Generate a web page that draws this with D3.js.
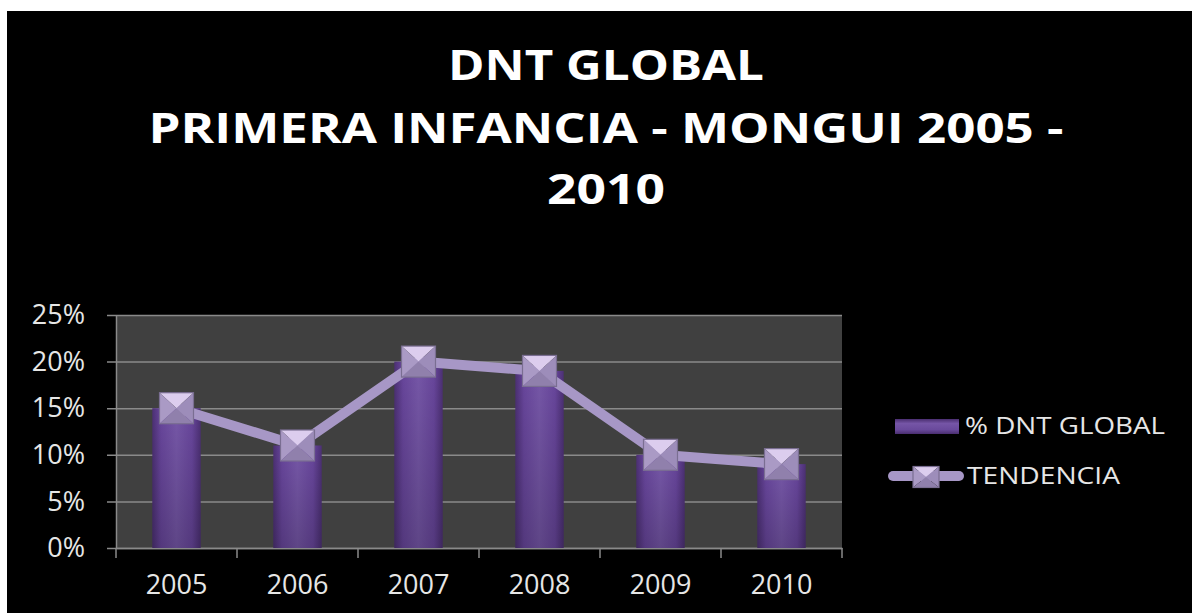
<!DOCTYPE html>
<html>
<head>
<meta charset="utf-8">
<script src="https://cdn.jsdelivr.net/npm/d3@7"></script>
<style>
  html, body { margin: 0; padding: 0; background: #fff; }
  svg { display: block; }
</style>
</head>
<body>
<svg id="chart" width="1192" height="613"></svg>
<script>
// data
const years = ["2005", "2006", "2007", "2008", "2009", "2010"];
const dntGlobal = [0.15, 0.11, 0.20, 0.19, 0.10, 0.09];
const tendencia = [0.15, 0.11, 0.20, 0.19, 0.10, 0.09];
const yTicks = [0, 0.05, 0.10, 0.15, 0.20, 0.25];
const titleLines = ["DNT GLOBAL", "PRIMERA INFANCIA - MONGUI 2005 -", "2010"];
const legendLabels = ["% DNT GLOBAL", "TENDENCIA"];

const svg = d3.select("#chart");
const font = "'Open Sans', 'DejaVu Sans', sans-serif";

// black slide background (white strip top/left like the capture)
svg.append("rect").attr("x", 7).attr("y", 11).attr("width", 1185).attr("height", 602).attr("fill", "#000");

const defs = svg.append("defs");

// bar gradient: dark edges, lighter middle
let barGrad = defs.append("linearGradient").attr("id", "barGrad").attr("x1", 0).attr("x2", 1).attr("y1", 0).attr("y2", 0);
[["0%", "#4c3074"], ["18%", "#68469c"], ["50%", "#7657a8"], ["82%", "#68469c"], ["100%", "#4c3074"]]
    .forEach(s => barGrad.append("stop").attr("offset", s[0]).attr("stop-color", s[1]));

let shade = defs.append("linearGradient").attr("id", "barShade").attr("x1", 0).attr("x2", 0).attr("y1", 0).attr("y2", 1);
shade.append("stop").attr("offset", "0%").attr("stop-color", "#000").attr("stop-opacity", 0);
shade.append("stop").attr("offset", "100%").attr("stop-color", "#000").attr("stop-opacity", 0.2);

let legGrad = defs.append("linearGradient").attr("id", "legGrad").attr("x1", 0).attr("x2", 0).attr("y1", 0).attr("y2", 1);
[["0%", "#4a2e70"], ["30%", "#7555a6"], ["70%", "#6a4a9c"], ["100%", "#4a2e70"]]
    .forEach(s => legGrad.append("stop").attr("offset", s[0]).attr("stop-color", s[1]));

// title
const title = svg.append("g").attr("font-family", font).attr("font-weight", "bold")
    .attr("font-size", 42).attr("fill", "#fff").attr("text-anchor", "middle");
const titleBase = [80, 143, 204];
const titleWidth = [316, 915, 118];
titleLines.forEach((t, i) => {
    title.append("text")
        .attr("x", 606).attr("y", titleBase[i])
        .attr("textLength", titleWidth[i]).attr("lengthAdjust", "spacingAndGlyphs")
        .text(t);
});

// scales
const x = d3.scaleBand().domain(years).range([116, 842]).padding(0);
const y = d3.scaleLinear().domain([0, 0.25]).range([548, 315]);
const barW = x.bandwidth() * 0.4;

// plot area
svg.append("rect")
    .attr("x", x.range()[0]).attr("y", y(0.25))
    .attr("width", x.range()[1] - x.range()[0]).attr("height", y(0) - y(0.25))
    .attr("fill", "#404040");

// gridlines + y labels
const yAxis = svg.append("g")
    .attr("transform", `translate(${x.range()[0]},0)`)
    .call(d3.axisLeft(y).tickValues(yTicks).tickFormat(d3.format(".0%")).tickSizeInner(9).tickSizeOuter(0).tickPadding(22));
yAxis.select(".domain").attr("stroke", "#8a8a8a").attr("stroke-width", 1.5);
yAxis.selectAll(".tick line").attr("stroke", "#8a8a8a").attr("stroke-width", 1.5)
    .attr("x2", x.range()[1] - x.range()[0]).attr("x1", -9);
yAxis.selectAll(".tick text").attr("fill", "#e6e6e6").attr("font-size", 27).attr("font-family", font);

// x axis: labels at centers, ticks at category boundaries
const xAxis = svg.append("g")
    .attr("transform", `translate(0,${y(0)})`)
    .call(d3.axisBottom(x).tickSize(0).tickPadding(27));
xAxis.select(".domain").attr("stroke", "#8a8a8a").attr("stroke-width", 1.5);
xAxis.selectAll(".tick text").attr("fill", "#e6e6e6").attr("font-size", 27).attr("font-family", font);
const bounds = years.map(d => x(d)).concat([x.range()[1]]);
xAxis.selectAll(".bound").data(bounds).enter().append("line")
    .attr("class", "bound")
    .attr("x1", d => d).attr("x2", d => d).attr("y1", 0).attr("y2", 10)
    .attr("stroke", "#8a8a8a").attr("stroke-width", 1.5);

// bars
const bars = svg.append("g");
bars.selectAll("rect.bar").data(dntGlobal).enter().append("rect")
    .attr("class", "bar")
    .attr("x", (d, i) => x(years[i]) + (x.bandwidth() - barW) / 2)
    .attr("y", d => y(d))
    .attr("width", barW)
    .attr("height", d => y(0) - y(d))
    .attr("fill", "url(#barGrad)");
bars.selectAll("rect.shade").data(dntGlobal).enter().append("rect")
    .attr("class", "shade")
    .attr("x", (d, i) => x(years[i]) + (x.bandwidth() - barW) / 2)
    .attr("y", d => y(d))
    .attr("width", barW)
    .attr("height", d => y(0) - y(d))
    .attr("fill", "url(#barShade)");

// pyramid style square marker
function drawMarker(g, cx, cy, w, h) {
    let l = cx - w / 2, r = cx + w / 2, t = cy - h / 2, b = cy + h / 2;
    let m = g.append("g");
    m.append("path").attr("d", `M${l},${t}L${r},${t}L${cx},${cy}Z`).attr("fill", "#dccdee");
    m.append("path").attr("d", `M${l},${t}L${cx},${cy}L${l},${b}Z`).attr("fill", "#aa9ac5");
    m.append("path").attr("d", `M${r},${t}L${cx},${cy}L${r},${b}Z`).attr("fill", "#9d8dba");
    m.append("path").attr("d", `M${l},${b}L${cx},${cy}L${r},${b}Z`).attr("fill", "#9080ac");
    m.append("rect").attr("x", l).attr("y", t).attr("width", w).attr("height", h)
        .attr("fill", "none").attr("stroke", "#7a6e92").attr("stroke-width", 1.2);
}

// trend line
const line = d3.line()
    .x((d, i) => x(years[i]) + x.bandwidth() / 2)
    .y(d => y(d));
svg.append("path").datum(tendencia)
    .attr("d", line)
    .attr("fill", "none").attr("stroke", "#a797c6").attr("stroke-width", 10)
    .attr("stroke-linejoin", "round");
const markers = svg.append("g");
tendencia.forEach((d, i) => drawMarker(markers, x(years[i]) + x.bandwidth() / 2, y(d), 34, 31));

// legend
const legend = svg.append("g").attr("font-family", font).attr("font-size", 23).attr("fill", "#e6e6e6");
legend.append("rect").attr("x", 895).attr("y", 419).attr("width", 64).attr("height", 15).attr("fill", "url(#legGrad)");
legend.append("text").attr("x", 965).attr("y", 434)
    .attr("textLength", 200).attr("lengthAdjust", "spacingAndGlyphs").text(legendLabels[0]);
legend.append("line").attr("x1", 893).attr("x2", 959).attr("y1", 476).attr("y2", 476)
    .attr("stroke", "#a797c6").attr("stroke-width", 10).attr("stroke-linecap", "round");
drawMarker(legend, 926, 477, 26, 21);
legend.append("text").attr("x", 967).attr("y", 484)
    .attr("textLength", 153).attr("lengthAdjust", "spacingAndGlyphs").text(legendLabels[1]);
</script>
</body>
</html>
